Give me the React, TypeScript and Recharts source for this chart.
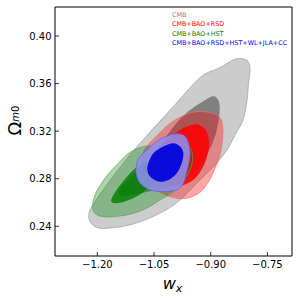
import React from "react"
import { ScatterChart, Scatter, XAxis, YAxis, Legend } from "recharts"

type Pt = { x: number; y: number }

// axes
const X_DOMAIN: [number, number] = [-1.312, -0.685]
const Y_DOMAIN: [number, number] = [0.215, 0.4244]
const X_TICKS = [-1.2, -1.05, -0.9, -0.75]
const Y_TICKS = [0.24, 0.28, 0.32, 0.36, 0.4]

// legend
const SERIES_NAMES = ["CMB", "CMB+BAO+RSD", "CMB+BAO+HST", "CMB+BAO+RSD+HST+WL+JLA+CC"]
const SERIES_COLORS = ["#8a8a8a", "#ff0000", "#008000", "#0000ff"]

// contour outlines (w_x, Omega_m0); outer = 2 sigma, inner = 1 sigma
const CMB_OUTER: Pt[] = [
  { x: -0.841, y: 0.3798 }, { x: -0.818, y: 0.381 }, { x: -0.8004, y: 0.3784 }, { x: -0.796, y: 0.3714 },
  { x: -0.8004, y: 0.3588 }, { x: -0.8039, y: 0.3462 }, { x: -0.8145, y: 0.3294 }, { x: -0.8357, y: 0.3168 },
  { x: -0.8568, y: 0.3042 }, { x: -0.8886, y: 0.2916 }, { x: -0.9327, y: 0.2776 }, { x: -0.99, y: 0.2597 },
  { x: -1.0526, y: 0.2482 }, { x: -1.1135, y: 0.2412 }, { x: -1.1708, y: 0.2384 }, { x: -1.2016, y: 0.2389 },
  { x: -1.2193, y: 0.244 }, { x: -1.2219, y: 0.251 }, { x: -1.206, y: 0.2608 }, { x: -1.1584, y: 0.2818 },
  { x: -1.1135, y: 0.3 }, { x: -1.0791, y: 0.3126 }, { x: -1.0032, y: 0.3392 }, { x: -0.9283, y: 0.365 },
  { x: -0.8754, y: 0.3734 },
]
const CMB_INNER: Pt[] = [
  { x: -0.8948, y: 0.3493 }, { x: -0.8815, y: 0.3468 }, { x: -0.8762, y: 0.3398 }, { x: -0.8798, y: 0.328 },
  { x: -0.8904, y: 0.314 }, { x: -0.9106, y: 0.3 }, { x: -0.9371, y: 0.2874 }, { x: -0.9724, y: 0.2782 },
  { x: -1.012, y: 0.2726 }, { x: -1.0561, y: 0.2697 }, { x: -1.1002, y: 0.2669 }, { x: -1.1337, y: 0.2653 },
  { x: -1.1443, y: 0.2678 }, { x: -1.1355, y: 0.2734 }, { x: -1.109, y: 0.2818 }, { x: -1.0738, y: 0.293 },
  { x: -1.0385, y: 0.3056 }, { x: -1.0032, y: 0.3218 }, { x: -0.968, y: 0.3342 }, { x: -0.9283, y: 0.3434 },
]
const RSD_OUTER: Pt[] = [
  { x: -0.9371, y: 0.3364 }, { x: -0.9018, y: 0.3356 }, { x: -0.8754, y: 0.3314 }, { x: -0.8683, y: 0.3238 },
  { x: -0.8683, y: 0.314 }, { x: -0.8754, y: 0.3 }, { x: -0.8886, y: 0.2888 }, { x: -0.9045, y: 0.2782 },
  { x: -0.9283, y: 0.2686 }, { x: -0.9635, y: 0.2636 }, { x: -0.9988, y: 0.2641 }, { x: -1.0341, y: 0.2686 },
  { x: -1.0605, y: 0.2726 }, { x: -1.0782, y: 0.279 }, { x: -1.087, y: 0.2874 }, { x: -1.0844, y: 0.2972 },
  { x: -1.0694, y: 0.307 }, { x: -1.0429, y: 0.316 }, { x: -1.0076, y: 0.3266 }, { x: -0.968, y: 0.3336 },
]
const RSD_INNER: Pt[] = [
  { x: -0.9415, y: 0.3258 }, { x: -0.9195, y: 0.323 }, { x: -0.908, y: 0.3174 }, { x: -0.9045, y: 0.3084 },
  { x: -0.9098, y: 0.2986 }, { x: -0.9221, y: 0.2888 }, { x: -0.9433, y: 0.2798 }, { x: -0.9724, y: 0.2748 },
  { x: -1.0076, y: 0.2742 }, { x: -1.0385, y: 0.2776 }, { x: -1.0561, y: 0.2846 }, { x: -1.0561, y: 0.2944 },
  { x: -1.0429, y: 0.3042 }, { x: -1.0165, y: 0.3126 }, { x: -0.9812, y: 0.321 },
]
const HST_OUTER: Pt[] = [
  { x: -1.2122, y: 0.2546 }, { x: -1.1972, y: 0.249 }, { x: -1.1664, y: 0.2479 }, { x: -1.1135, y: 0.2501 },
  { x: -1.0694, y: 0.2552 }, { x: -1.0341, y: 0.2622 }, { x: -1.0076, y: 0.2669 }, { x: -0.9812, y: 0.2742 },
  { x: -0.9635, y: 0.2818 }, { x: -0.9503, y: 0.2916 }, { x: -0.9486, y: 0.3 }, { x: -0.9547, y: 0.3062 },
  { x: -0.9768, y: 0.309 }, { x: -1.012, y: 0.309 }, { x: -1.0473, y: 0.3078 }, { x: -1.0782, y: 0.307 },
  { x: -1.1135, y: 0.3022 }, { x: -1.1443, y: 0.293 }, { x: -1.1796, y: 0.2804 }, { x: -1.206, y: 0.2664 },
]
const HST_INNER: Pt[] = [
  { x: -1.1637, y: 0.2613 }, { x: -1.1531, y: 0.2686 }, { x: -1.1355, y: 0.2762 }, { x: -1.1135, y: 0.2846 },
  { x: -1.087, y: 0.2916 }, { x: -1.0561, y: 0.2958 }, { x: -1.0297, y: 0.2958 }, { x: -1.0209, y: 0.2902 },
  { x: -1.0341, y: 0.2818 }, { x: -1.0605, y: 0.2734 }, { x: -1.0914, y: 0.2658 }, { x: -1.1267, y: 0.2608 },
  { x: -1.1514, y: 0.2594 },
]
const ALL_OUTER: Pt[] = [
  { x: -1.087, y: 0.2986 }, { x: -1.0429, y: 0.3112 }, { x: -1.0076, y: 0.3168 }, { x: -0.9812, y: 0.3176 },
  { x: -0.9653, y: 0.3148 }, { x: -0.9565, y: 0.307 }, { x: -0.9547, y: 0.2986 }, { x: -0.9618, y: 0.2874 },
  { x: -0.9724, y: 0.2762 }, { x: -0.99, y: 0.2706 }, { x: -1.0253, y: 0.2692 }, { x: -1.0605, y: 0.2706 },
  { x: -1.087, y: 0.2762 }, { x: -1.0976, y: 0.2846 }, { x: -1.0958, y: 0.2916 },
]
const ALL_INNER: Pt[] = [
  { x: -1.065, y: 0.293 }, { x: -1.0517, y: 0.3014 }, { x: -1.0253, y: 0.307 }, { x: -0.9988, y: 0.3098 },
  { x: -0.9812, y: 0.307 }, { x: -0.9724, y: 0.3014 }, { x: -0.9768, y: 0.293 }, { x: -0.99, y: 0.2846 },
  { x: -1.012, y: 0.279 }, { x: -1.0385, y: 0.2776 }, { x: -1.0605, y: 0.2818 }, { x: -1.0676, y: 0.2874 },
]

const FONT = "DejaVu Sans"

const fmtTick = (v: number) => v.toFixed(2).replace("-", "\u2212")

// closed Catmull-Rom curve through the pixel points handed over by the scatter
function closedPath(pts: { x: number; y: number }[]) {
  const n = pts.length
  let d = `M${pts[0].x},${pts[0].y}`
  for (let i = 0; i < n; i++) {
    const p0 = pts[(i - 1 + n) % n]
    const p1 = pts[i]
    const p2 = pts[(i + 1) % n]
    const p3 = pts[(i + 2) % n]
    const c1x = p1.x + (p2.x - p0.x) / 6
    const c1y = p1.y + (p2.y - p0.y) / 6
    const c2x = p2.x - (p3.x - p1.x) / 6
    const c2y = p2.y - (p3.y - p1.y) / 6
    d += ` C${c1x},${c1y} ${c2x},${c2y} ${p2.x},${p2.y}`
  }
  return d + "Z"
}

interface ContourProps {
  points?: { x: number; y: number }[]
  shade: string
  alpha: number
  edge?: string
}

function ContourPath({ points, shade, alpha, edge }: ContourProps) {
  if (!points || points.length < 3) return null
  return (
    <path
      d={closedPath(points)}
      fill={shade}
      fillOpacity={alpha}
      stroke={edge ?? "none"}
      strokeWidth={0.7}
    />
  )
}

const Blank = () => <g />

function LegendBlock() {
  return (
    <div style={{ fontFamily: FONT, fontSize: 6.4, lineHeight: "9.6px" }}>
      {SERIES_NAMES.map((name, i) => (
        <div key={name} style={{ color: SERIES_COLORS[i], whiteSpace: "nowrap" }}>
          {name}
        </div>
      ))}
    </div>
  )
}

function YTitle(props: any) {
  const vb = props?.viewBox ?? { x: 0, y: 7, width: 55, height: 249 }
  const cx = vb.x + 21
  const cy = vb.y + vb.height / 2 - 11
  return (
    <text x={cx} y={cy} transform={`rotate(-90 ${cx} ${cy})`} textAnchor="middle" fontFamily={FONT} fill="#000">
      <tspan fontSize={18}>Ω</tspan>
      <tspan fontSize={10} fontStyle="italic" dy={-2.4}>m</tspan>
      <tspan fontSize={10}>0</tspan>
    </text>
  )
}

function XTitle(props: any) {
  const vb = props?.viewBox ?? { x: 55, y: 256, width: 237, height: 44 }
  const cx = vb.x + vb.width / 2 - 1
  const by = vb.y + 33
  return (
    <text x={cx} y={by} textAnchor="middle" fontFamily={FONT} fill="#000">
      <tspan fontSize={16} fontStyle="italic">w</tspan>
      <tspan fontSize={11} fontStyle="italic" dy={2.7}>x</tspan>
    </text>
  )
}

const contours: { data: Pt[]; shade: string; alpha: number; edge?: string }[] = [
  { data: CMB_OUTER, shade: "#cccccc", alpha: 1, edge: "#9c9c9c" },
  { data: CMB_INNER, shade: "#808080", alpha: 1 },
  { data: RSD_OUTER, shade: "#ff0000", alpha: 0.35, edge: "#f06a6a" },
  { data: RSD_INNER, shade: "#ff0000", alpha: 0.88 },
  { data: HST_OUTER, shade: "#008000", alpha: 0.33, edge: "#5aa55a" },
  { data: HST_INNER, shade: "#008000", alpha: 0.82 },
  { data: ALL_OUTER, shade: "#8f8ff2", alpha: 0.85, edge: "#5a5af0" },
  { data: ALL_INNER, shade: "#0000dd", alpha: 0.92 },
]

const axisLine = { stroke: "#000", strokeWidth: 1 }
const tickLine = { stroke: "#000", strokeWidth: 0.8 }
const tickText = { fill: "#000", fontSize: 10, fontFamily: FONT }

export default function App() {
  return (
    <div style={{ position: "absolute", left: 0, top: 0, width: 299, height: 300, background: "#fff" }}>
      <ScatterChart width={299} height={300} margin={{ top: 7, right: 7, bottom: 0, left: 0 }}>
        <XAxis
          xAxisId="b"
          type="number"
          dataKey="x"
          domain={X_DOMAIN}
          ticks={X_TICKS}
          interval={0}
          allowDataOverflow
          height={44}
          tickSize={-4}
          tickMargin={9}
          tickFormatter={fmtTick}
          axisLine={axisLine}
          tickLine={tickLine}
          tick={tickText}
          label={XTitle}
        />
        <XAxis
          xAxisId="t"
          orientation="top"
          type="number"
          domain={X_DOMAIN}
          ticks={X_TICKS}
          interval={0}
          allowDataOverflow
          height={0.01}
          tickSize={-4}
          tick={false}
          axisLine={axisLine}
          tickLine={tickLine}
        />
        <YAxis
          yAxisId="l"
          type="number"
          dataKey="y"
          domain={Y_DOMAIN}
          ticks={Y_TICKS}
          interval={0}
          allowDataOverflow
          width={55}
          tickSize={-4}
          tickMargin={7.5}
          tickFormatter={fmtTick}
          axisLine={axisLine}
          tickLine={tickLine}
          tick={tickText}
          label={YTitle}
        />
        <YAxis
          yAxisId="r"
          orientation="right"
          type="number"
          domain={Y_DOMAIN}
          ticks={Y_TICKS}
          interval={0}
          allowDataOverflow
          width={0.01}
          tickSize={-4}
          tick={false}
          axisLine={axisLine}
          tickLine={tickLine}
        />
        {contours.map((c, i) => (
          <Scatter
            key={i}
            data={c.data}
            xAxisId="b"
            yAxisId="l"
            isAnimationActive={false}
            shape={Blank}
            legendType="none"
            line={<ContourPath shade={c.shade} alpha={c.alpha} edge={c.edge} />}
          />
        ))}
        <Legend
          content={<LegendBlock />}
          layout="vertical"
          align="center"
          verticalAlign="middle"
          wrapperStyle={{ left: 172, top: 10.5, width: "auto" }}
        />
      </ScatterChart>
    </div>
  )
}
